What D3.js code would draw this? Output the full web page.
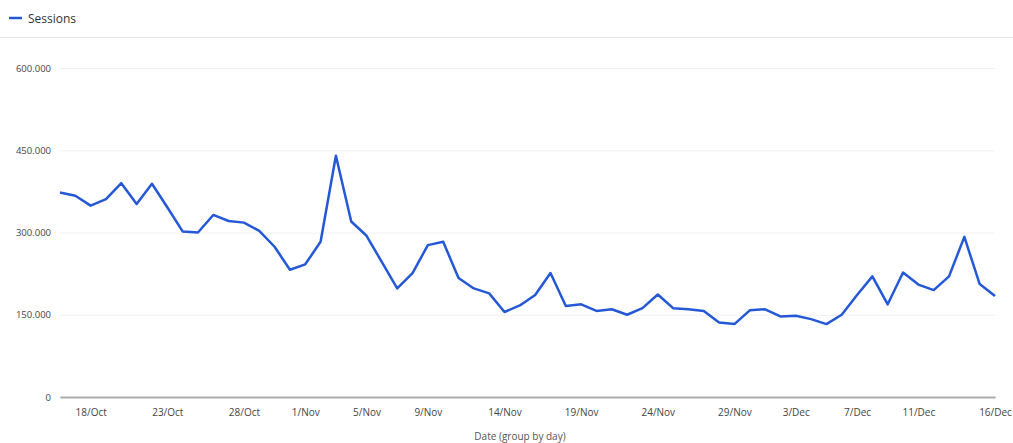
<!DOCTYPE html>
<html>
<head>
<meta charset="utf-8">
<script src="https://cdn.jsdelivr.net/npm/d3@7"></script>
<style>
  body { margin: 0; background: #fff; }
  svg { display: block; font-family: "Open Sans", "Noto Sans", sans-serif; }
</style>
</head>
<body>
<script>
// daily sessions, 16 Oct -> 16 Dec
const startDay = "2019-10-16";
const sessions = [
  373000, 367000, 349000, 361000, 390000, 352000, 389000, 346000, 302000, 300000,
  332000, 321000, 318000, 303000, 274000, 232000, 242000, 283000, 440000, 320000,
  294000, 246000, 198000, 226000, 277000, 283000, 217000, 198000, 189000, 155000,
  167000, 186000, 226000, 166000, 169000, 157000, 160000, 150000, 162000, 187000,
  162000, 160000, 157000, 136000, 133000, 158000, 160000, 147000, 148000, 142000,
  133000, 150000, 186000, 220000, 169000, 227000, 205000, 195000, 220000, 292000,
  206000, 184000
];
const xTickLabels = ["18/Oct", "23/Oct", "28/Oct", "1/Nov", "5/Nov", "9/Nov", "14/Nov",
  "19/Nov", "24/Nov", "29/Nov", "3/Dec", "7/Dec", "11/Dec", "16/Dec"];
const yTicks = [0, 150000, 300000, 450000, 600000];

const width = 1013, height = 443;
const margin = {left: 60, right: 18, top: 68, bottom: 46};

const start = d3.timeParse("%Y-%m-%d")(startDay);
const data = sessions.map((v, i) => ({date: d3.timeDay.offset(start, i), value: v}));
const parseTick = d3.timeParse("%d/%b/%Y");
const tickDates = xTickLabels.map(t => parseTick(t + "/2019"));

const fmt = d3.formatLocale({decimal: ",", thousands: ".", grouping: [3], currency: ["", ""]}).format(",");

const x = d3.scaleTime()
  .domain(d3.extent(data, d => d.date))
  .range([margin.left, width - margin.right]);
const y = d3.scaleLinear()
  .domain([0, 600000])
  .range([height - margin.bottom, margin.top]);

const svg = d3.select("body").append("svg")
  .attr("width", width)
  .attr("height", height);

// legend
svg.append("line")
  .attr("x1", 9).attr("x2", 22).attr("y1", 18).attr("y2", 18)
  .attr("stroke", "#2458d6").attr("stroke-width", 2.5);
svg.append("text")
  .attr("x", 28).attr("y", 22.5)
  .attr("font-size", 12).attr("fill", "#333")
  .text("Sessions");
svg.append("line")
  .attr("x1", 0).attr("x2", width).attr("y1", 37.5).attr("y2", 37.5)
  .attr("stroke", "#e4e4e4");

// gridlines
svg.append("g").selectAll("line")
  .data(yTicks.filter(d => d > 0))
  .enter().append("line")
  .attr("x1", margin.left).attr("x2", width - margin.right)
  .attr("y1", d => y(d) + 0.5).attr("y2", d => y(d) + 0.5)
  .attr("stroke", "#f0f0f0");

// y axis labels
const yAxis = svg.append("g")
  .attr("transform", `translate(${margin.left - 9},0)`)
  .call(d3.axisLeft(y).tickValues(yTicks).tickFormat(fmt).tickSize(0).tickPadding(0));
yAxis.select(".domain").remove();
yAxis.selectAll("text").attr("font-size", 9.5).attr("fill", "#444")
  .attr("font-family", "'Open Sans', 'Noto Sans', sans-serif");

// x axis
const xAxis = svg.append("g")
  .attr("transform", `translate(0,${y(0)})`)
  .call(d3.axisBottom(x).tickValues(tickDates).tickFormat((d, i) => xTickLabels[i]).tickSize(0).tickPadding(12));
xAxis.select(".domain").attr("stroke", "#aaa").attr("stroke-width", 2);
xAxis.selectAll("text").attr("font-size", 10).attr("fill", "#444")
  .attr("font-family", "'Open Sans', 'Noto Sans', sans-serif");

svg.append("text")
  .attr("x", 520).attr("y", 440)
  .attr("text-anchor", "middle")
  .attr("font-size", 10).attr("fill", "#555")
  .text("Date (group by day)");

// the line
const line = d3.line()
  .x(d => x(d.date))
  .y(d => y(d.value));
svg.append("path")
  .datum(data)
  .attr("d", line)
  .attr("fill", "none")
  .attr("stroke", "#2458d6")
  .attr("stroke-width", 2.5)
  .attr("stroke-linejoin", "round");
</script>
</body>
</html>
